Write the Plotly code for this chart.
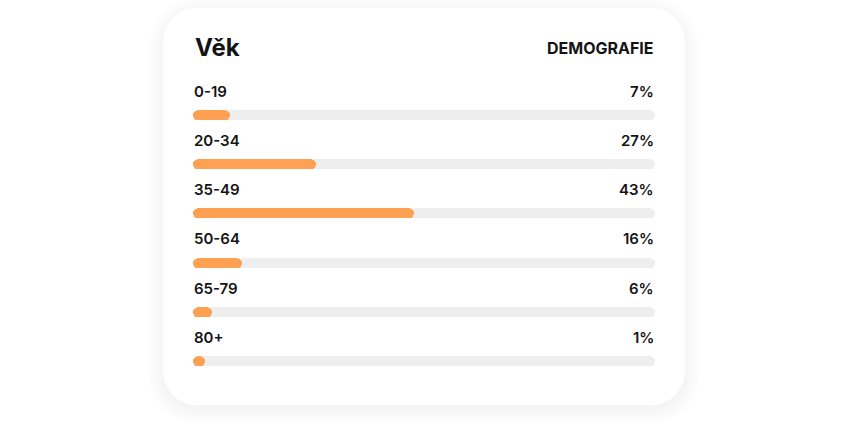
import plotly.graph_objects as go

# ---- data ----
categories = ["0-19", "20-34", "35-49", "50-64", "65-79", "80+"]
percent_labels = [7, 27, 43, 16, 6, 1]          # values printed on the right
bar_fill = [7.9, 26.6, 47.8, 10.6, 4.2, 2.6]    # bar length as % of track
track_full = [100] * len(categories)
title_text = "Věk"
badge_text = "DEMOGRAFIE"

W, H = 848, 424
FONT = "Inter, 'Noto Sans', sans-serif"
ORANGE = "#FFA052"
TRACK = "#EEEEEE"
INK = "#141414"

TRACK_X0, TRACK_X1 = 193, 655
BAR_H = 10


def px(x):
    return x / W


def py(y):
    return 1 - y / H


def rrect_path(x0, y0, x1, y1, r):
    k = 0.5523 * r
    pts = [
        f"M{px(x0 + r)},{py(y0)}",
        f"L{px(x1 - r)},{py(y0)}",
        f"C{px(x1 - r + k)},{py(y0)} {px(x1)},{py(y0 + r - k)} {px(x1)},{py(y0 + r)}",
        f"L{px(x1)},{py(y1 - r)}",
        f"C{px(x1)},{py(y1 - r + k)} {px(x1 - r + k)},{py(y1)} {px(x1 - r)},{py(y1)}",
        f"L{px(x0 + r)},{py(y1)}",
        f"C{px(x0 + r - k)},{py(y1)} {px(x0)},{py(y1 - r + k)} {px(x0)},{py(y1 - r)}",
        f"L{px(x0)},{py(y0 + r)}",
        f"C{px(x0)},{py(y0 + r - k)} {px(x0 + r - k)},{py(y0)} {px(x0 + r)},{py(y0)}",
        "Z",
    ]
    return " ".join(pts)


step = 49.33
bw = BAR_H / step

fig = go.Figure()
for values, color in ((track_full, TRACK), (bar_fill, ORANGE)):
    # explicit base -> plotly rounds both ends of the bar (pill shape)
    fig.add_trace(go.Bar(
        y=categories, x=values, base=[0] * len(values), orientation="h",
        marker=dict(color=color, line=dict(width=0)),
        width=bw, hoverinfo="skip", showlegend=False,
    ))

shapes = []
cx0, cy0, cx1, cy1, cr = 163, 8, 685, 405, 34
for i in range(10, 0, -1):
    e = i * 1.5
    shapes.append(dict(
        type="path", xref="paper", yref="paper", layer="below",
        path=rrect_path(cx0 - e, cy0 - e + 4, cx1 + e, cy1 + e + 4, cr + e),
        fillcolor="rgba(60,70,100,0.0045)", line=dict(width=0),
    ))
shapes.append(dict(
    type="path", xref="paper", yref="paper", layer="below",
    path=rrect_path(cx0, cy0, cx1, cy1, cr),
    fillcolor="#FFFFFF", line=dict(width=0),
))

annotations = [
    dict(text=f"<b>{title_text}</b>", xref="paper", yref="paper",
         x=px(192.5), y=py(48), xanchor="left", yanchor="middle", showarrow=False,
         font=dict(family=FONT, size=24, color=INK)),
    dict(text=f"<b>{badge_text}</b>", xref="paper", yref="paper",
         x=px(655.5), y=py(47.5), xanchor="right", yanchor="middle", showarrow=False,
         font=dict(family=FONT, size=16, color=INK)),
]
for cat, p in zip(categories, percent_labels):
    annotations.append(dict(
        text=cat, xref="x", yref="y", x=0, y=cat, yshift=24,
        xanchor="left", yanchor="middle", showarrow=False, xshift=-1,
        font=dict(family=FONT, size=15, color=INK, weight=600),
    ))
    annotations.append(dict(
        text=f"{p}%", xref="x", yref="y", x=100, y=cat, yshift=24,
        xanchor="right", yanchor="middle", showarrow=False, xshift=1,
        font=dict(family=FONT, size=15, color=INK, weight=600),
    ))

top_px = 115 - step / 2
bot_px = top_px + step * len(categories)

fig.update_layout(
    width=W, height=H,
    margin=dict(l=0, r=0, t=0, b=0),
    paper_bgcolor="#FFFFFF", plot_bgcolor="rgba(0,0,0,0)",
    barmode="overlay", barcornerradius=BAR_H / 2, bargap=0,
    xaxis=dict(domain=[px(TRACK_X0), px(TRACK_X1)], range=[0, 100], visible=False, fixedrange=True),
    yaxis=dict(domain=[py(bot_px), py(top_px)], type="category",
               categoryorder="array", categoryarray=categories,
               range=[len(categories) - 0.5, -0.5], visible=False, fixedrange=True),
    shapes=shapes, annotations=annotations,
    showlegend=False,
)

fig.write_html("out.html", config={"displayModeBar": False})
